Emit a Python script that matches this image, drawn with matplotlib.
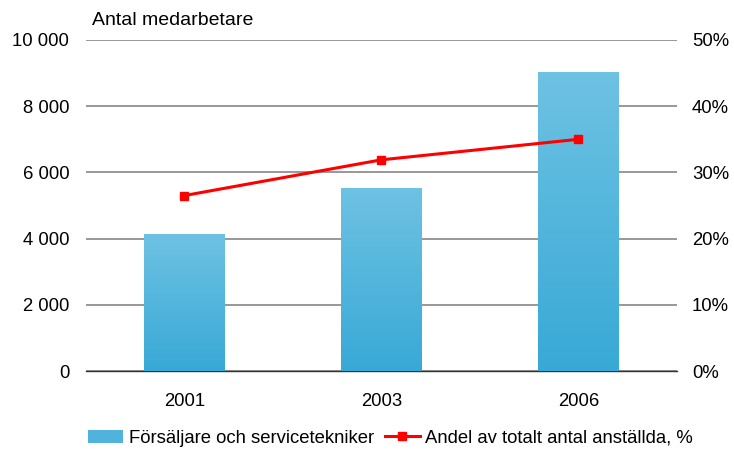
import numpy as np
import matplotlib.pyplot as plt
from matplotlib.patches import Patch
from matplotlib.lines import Line2D
from matplotlib.colors import LinearSegmentedColormap

plt.rcParams['font.family'] = ['Liberation Sans', 'DejaVu Sans']

years = ["2001", "2003", "2006"]
employees = [4140, 5530, 9020]
share_pct = [26.5, 31.9, 35.0]

fig = plt.figure(figsize=(7.34, 4.53), dpi=100)
ax = fig.add_axes([0.117, 0.181, 0.805, 0.7307])

x = np.arange(len(years))
bars = ax.bar(x, employees, width=0.41, color="#5AB8DF", zorder=2)

# vertical gradient in each bar: lighter at top, darker at bottom
grad = np.linspace(0, 1, 256).reshape(-1, 1)
cmap = LinearSegmentedColormap.from_list("bar", ["#38A9D6", "#6EC2E3"])
for b in bars:
    x0, y0 = b.get_x(), b.get_y()
    w, h = b.get_width(), b.get_height()
    im = ax.imshow(grad, cmap=cmap, aspect="auto", origin="lower",
                   extent=[x0, x0 + w, y0, y0 + h], zorder=3)
    im.set_clip_path(b)
    b.set_alpha(0)

fs = 13.3
ax.set_xlim(-0.5, 2.5)
ax.set_ylim(0, 10000)
ax.set_yticks(range(0, 10001, 2000))
ax.set_yticklabels(["0", "2 000", "4 000", "6 000", "8 000", "10 000"])
ax.set_xticks(x)
ax.set_xticklabels(years)
ax.yaxis.grid(True, color="#868686", linewidth=1.2, zorder=1)
ax.set_axisbelow(True)
for s in ["top", "right", "left"]:
    ax.spines[s].set_visible(False)
ax.spines["bottom"].set_color("#333333")
ax.spines["bottom"].set_linewidth(1.0)
ax.tick_params(axis="x", length=0, labelsize=fs, pad=16)
ax.tick_params(axis="y", length=0, labelsize=fs, pad=12)

ax2 = ax.twinx()
ax2.plot(x, share_pct, color="#FF0000", linewidth=2.2, marker="s",
         markersize=6, zorder=5)
ax2.set_ylim(0, 50)
ax2.set_yticks(range(0, 51, 10))
ax2.set_yticklabels([f"{v}%" for v in range(0, 51, 10)])
for s in ["top", "right", "left", "bottom"]:
    ax2.spines[s].set_visible(False)
ax2.tick_params(axis="y", length=0, labelsize=fs, pad=11)

fig.text(0.125, 0.955, "Antal medarbetare", fontsize=14, ha="left", va="center")

handles = [Patch(facecolor="#4FB3DD"),
           Line2D([0], [0], color="#FF0000", linewidth=2.2, marker="s", markersize=6)]
labels = ["Försäljare och servicetekniker", "Andel av totalt antal anställda, %"]
fig.legend(handles, labels, loc="center", bbox_to_anchor=(0.532, 0.033), ncol=2,
           frameon=False, fontsize=fs, handlelength=1.9, handletextpad=0.3,
           columnspacing=0.6)

fig.savefig("out.png", dpi=100)
